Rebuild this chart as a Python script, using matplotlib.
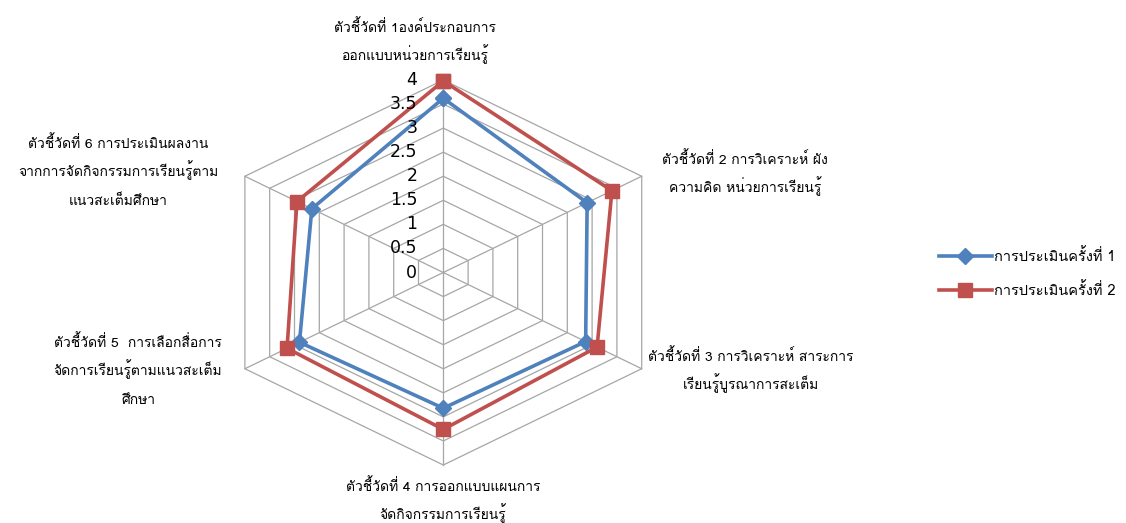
import numpy as np
import matplotlib
matplotlib.use('Agg')
from matplotlib import pyplot as plt
from matplotlib import font_manager, ft2font

categories = [
    'ตัวชี้วัดที่ 1องค์ประกอบการ\nออกแบบหน่วยการเรียนรู้',
    'ตัวชี้วัดที่ 2 การวิเคราะห์ ผัง\nความคิด หน่วยการเรียนรู้',
    'ตัวชี้วัดที่ 3 การวิเคราะห์ สาระการ\nเรียนรู้บูรณาการสะเต็ม',
    'ตัวชี้วัดที่ 4 การออกแบบแผนการ\nจัดกิจกรรมการเรียนรู้',
    'ตัวชี้วัดที่ 5  การเลือกสื่อการ\nจัดการเรียนรู้ตามแนวสะเต็ม\nศึกษา',
    'ตัวชี้วัดที่ 6 การประเมินผลงาน\nจากการจัดกิจกรรมการเรียนรู้ตาม\nแนวสะเต็มศึกษา',
]
series_names = ['การประเมินครั้งที่ 1', 'การประเมินครั้งที่ 2']
round1 = [3.62, 2.90, 2.87, 2.82, 2.90, 2.65]
round2 = [3.98, 3.40, 3.10, 3.26, 3.15, 2.95]
r_ticks = [0, 0.5, 1, 1.5, 2, 2.5, 3, 3.5, 4]
r_tick_labels = ['0', '0.5', '1', '1.5', '2', '2.5', '3', '3.5', '4']


def find_thai_font():
    # look for any installed font that has Thai glyphs
    for f in font_manager.fontManager.ttflist:
        try:
            cmap = ft2font.FT2Font(f.fname).get_charmap()
        except Exception:
            continue
        if 0x0E01 in cmap and 0x0E35 in cmap and 0x0E49 in cmap:
            return f.name
    return None


thai = find_thai_font()
fams = [thai, 'DejaVu Sans'] if thai else ['DejaVu Sans']
plt.rcParams['font.family'] = fams

W, H = 1126, 523
fig = plt.figure(figsize=(W / 100, H / 100), dpi=100)
# radar centre ~ (443, 272) px, r=4 -> 192 px vertical, 229 px horizontal (stretched)
cx, cy, rv, rh = 443.3, 272.5, 192.5, 229.1
ax = fig.add_axes([(cx - rh) / W, (H - cy - rv) / H, 2 * rh / W, 2 * rv / H],
                  projection='polar')
ax.set_aspect('auto')
ax.set_theta_zero_location('N')
ax.set_theta_direction(-1)
ax.set_ylim(0, 4)
ax.set_xticks([])
ax.set_yticks([])
ax.grid(False)
ax.spines['polar'].set_visible(False)
ax.patch.set_alpha(0)

n = len(categories)
angles = np.arange(n) * 2 * np.pi / n
closed = np.append(angles, angles[0])

grid_c = '#A6A6A6'
for r in r_ticks[1:]:
    ax.plot(closed, [r] * (n + 1), color=grid_c, lw=0.9, zorder=1, clip_on=False)
for a in angles:
    ax.plot([a, a], [0, 4], color=grid_c, lw=0.9, zorder=1, clip_on=False)

ax.plot(closed, round1 + round1[:1], color='#4F81BD', lw=2.6, marker='D', ms=8,
        label=series_names[0], zorder=3, clip_on=False)
ax.plot(closed, round2 + round2[:1], color='#C0504D', lw=2.6, marker='s', ms=10,
        label=series_names[1], zorder=4, clip_on=False)

for r, lab in zip(r_ticks, r_tick_labels):
    ax.annotate(lab, xy=(0, r), xytext=(-26, 0), textcoords='offset pixels',
                ha='right', va='center', fontsize=12.5, color='#000000',
                family='DejaVu Sans', zorder=5)

# category label: centre x and first-line y in px, line step 28.5 px
label_pos = [(415, 28), (745, 160), (751, 357), (443, 487), (138, 343), (118, 144)]
for txt, (x, y) in zip(categories, label_pos):
    for i, line in enumerate(txt.split('\n')):
        fig.text(x / W, 1 - (y + 4 + i * 28.5) / H, line, ha='center',
                 va='baseline', fontsize=10)

fig.legend(loc='center left', bbox_to_anchor=(926 / W, 1 - 273 / H), frameon=False,
           handlelength=3.6, handletextpad=0.15, labelspacing=1.25, fontsize=10.5)

fig.savefig('out.png', dpi=100)
